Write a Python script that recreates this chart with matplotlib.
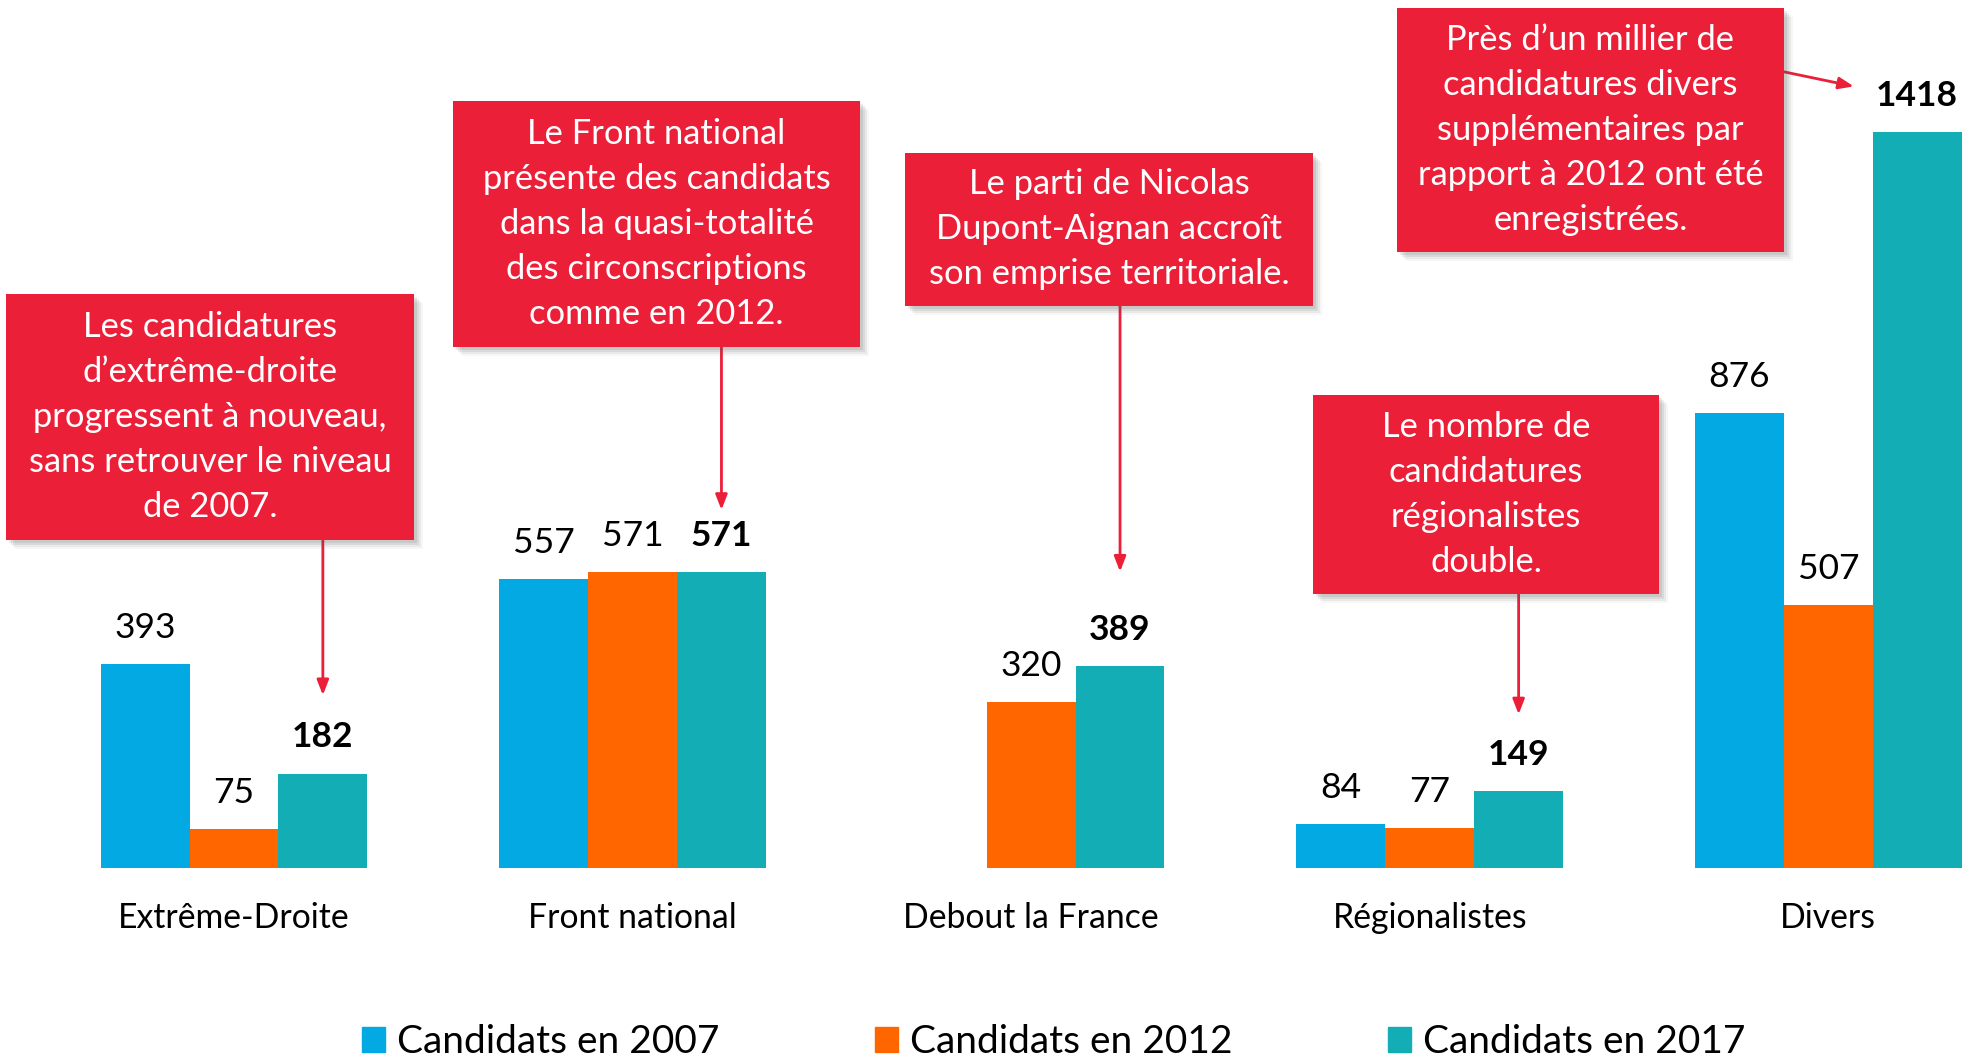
import matplotlib
matplotlib.use("Agg")
import matplotlib.pyplot as plt
from matplotlib.patches import Rectangle, Patch
import numpy as np

plt.rcParams['font.family'] = ['Lato', 'DejaVu Sans']

# --- data ---
categories = ["Extrême-Droite", "Front national", "Debout la France", "Régionalistes", "Divers"]
series_names = ["Candidats en 2007", "Candidats en 2012", "Candidats en 2017"]
values_2007 = [393, 557, np.nan, 84, 876]
values_2012 = [75, 571, 320, 77, 507]
values_2017 = [182, 571, 389, 149, 1418]
colors = ["#03A9E2", "#FF6600", "#13AEB5"]
red = "#EC1F39"

notes = [
    "Les candidatures\nd’extrême-droite\nprogressent à nouveau,\nsans retrouver le niveau\nde 2007.",
    "Le Front national\nprésente des candidats\ndans la quasi-totalité\ndes circonscriptions\ncomme en 2012.",
    "Le parti de Nicolas\nDupont-Aignan accroît\nson emprise territoriale.",
    "Le nombre de\ncandidatures\nrégionalistes\ndouble.",
    "Près d’un millier de\ncandidatures divers\nsupplémentaires par\nrapport à 2012 ont été\nenregistrées.",
]

W, H = 1977, 1061
fig = plt.figure(figsize=(W / 100, H / 100), dpi=100)
ax = fig.add_axes([0, (H - 868) / H, 1, 868 / H])
ax.set_xlim(-0.587, 4.373)
ax.set_ylim(0, 868 / 0.519)
ax.axis("off")

x = np.arange(len(categories))
bw = 0.223
all_series = [values_2007, values_2012, values_2017]
for k, vals in enumerate(all_series):
    xs = x + (k - 1) * bw
    ax.bar(xs, vals, width=bw, color=colors[k], label=series_names[k])
    for xi, v in zip(xs, vals):
        if np.isnan(v):
            continue
        ax.annotate(f"{v:.0f}", (xi, v), xytext=(0, 26), textcoords="offset points",
                    ha="center", va="center", fontsize=25.5,
                    fontweight="bold" if k == 2 else "normal", color="black")

for xi, c in zip(x, categories):
    ax.annotate(c, (xi, 0), xytext=(0, -36), textcoords="offset points",
                ha="center", va="center", fontsize=24.3, color="black")


def fx(px):
    return px / W


def fy(py):
    return 1 - py / H


# annotation boxes (left, top, right, bottom in pixels from top-left)
boxes = [(6, 294, 414, 540), (453, 101, 860, 347), (905, 153, 1313, 306),
         (1313, 395, 1659, 594), (1397, 8, 1784, 252)]
for (l, t, r, b), txt in zip(boxes, notes):
    for d, a in [(3, 0.12), (5, 0.1), (7, 0.08), (9, 0.05)]:
        fig.patches.append(Rectangle((fx(l + d), fy(b + d)), fx(r - l), (b - t) / H,
                                     transform=fig.transFigure, color="#555555",
                                     alpha=a, lw=0, zorder=1))
    fig.patches.append(Rectangle((fx(l), fy(b)), fx(r - l), (b - t) / H,
                                 transform=fig.transFigure, color=red, lw=0, zorder=2))
    fig.text(fx((l + r) / 2), fy((t + b) / 2), txt, ha="center", va="center",
             color="white", fontsize=24.8, linespacing=1.5, zorder=3)

# arrows: start / tip in data coordinates
arrow_start = [(0.223, 632), (1.223, 1004), (2.223, 1083), (3.223, 528), (3.889, 1534)]
arrow_tip = [(0.223, 333), (1.223, 690), (2.223, 571), (3.223, 296), (4.064, 1506)]
for s, e in zip(arrow_start, arrow_tip):
    ax.annotate("", xy=e, xytext=s,
                arrowprops=dict(arrowstyle="-|>,head_length=0.9,head_width=0.35",
                                color=red, lw=2, shrinkA=0, shrinkB=0))

handles = [Patch(color=c) for c in colors]
fig.legend(handles, series_names, loc="lower center", bbox_to_anchor=(0.533, -0.032),
           ncol=3, frameon=False, fontsize=28, handlelength=0.6, handleheight=0.6,
           handletextpad=0.3, columnspacing=4.0)

fig.savefig("out.png", dpi=100)
